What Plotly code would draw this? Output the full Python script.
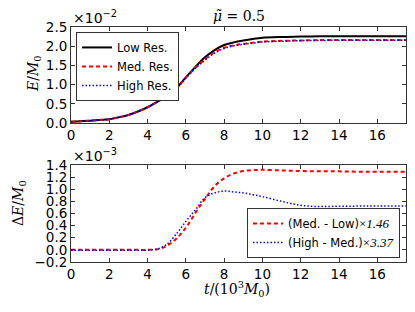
import plotly.graph_objects as go

# ---- data ----
t = [0, 0.5, 1, 1.5, 2, 2.5, 3, 3.5, 4, 4.5, 5, 5.5, 6, 6.5, 7, 7.5, 8, 8.5,
     9, 9.5, 10, 11, 12, 13, 14, 15, 16, 17.5]

# E/M0 in units of 1e-2
e_low = [0.03, 0.045, 0.06, 0.08, 0.10, 0.15, 0.21, 0.30, 0.41, 0.55, 0.70, 0.90,
         1.19, 1.46, 1.71, 1.90, 2.03, 2.10, 2.15, 2.19, 2.22, 2.24, 2.25, 2.26,
         2.26, 2.26, 2.26, 2.26]
e_med = [0.03, 0.045, 0.06, 0.08, 0.10, 0.15, 0.21, 0.30, 0.41, 0.55, 0.70, 0.90,
         1.18, 1.44, 1.66, 1.84, 1.96, 2.02, 2.06, 2.09, 2.12, 2.14, 2.15, 2.16,
         2.16, 2.16, 2.16, 2.16]
e_high = [0.03, 0.045, 0.06, 0.08, 0.10, 0.15, 0.21, 0.30, 0.41, 0.55, 0.70, 0.90,
          1.17, 1.42, 1.64, 1.82, 1.94, 2.01, 2.05, 2.08, 2.11, 2.13, 2.145, 2.15,
          2.155, 2.155, 2.155, 2.155]

# Delta E/M0 in units of 1e-3
d_med_low = [0, 0, 0, 0, 0, 0, 0, 0, 0, 0.01, 0.065, 0.185, 0.365, 0.61, 0.84,
             1.05, 1.18, 1.26, 1.30, 1.315, 1.32, 1.31, 1.30, 1.297, 1.295, 1.29,
             1.29, 1.29]
d_high_med = [-0.005, -0.005, -0.005, -0.005, -0.005, -0.005, -0.005, -0.005,
              -0.003, 0.015, 0.09, 0.26, 0.47, 0.66, 0.86, 0.94, 0.97, 0.955, 0.94,
              0.91, 0.88, 0.80, 0.735, 0.714, 0.72, 0.722, 0.725, 0.725]

x_ticks = [0, 2, 4, 6, 8, 10, 12, 14, 16]
top_ticks = [0.0, 0.5, 1.0, 1.5, 2.0, 2.5]
top_ticklabels = ["0.0", "0.5", "1.0", "1.5", "2.0", "2.5"]
bot_ticks = [-0.2, 0.0, 0.2, 0.4, 0.6, 0.8, 1.0, 1.2, 1.4]
bot_ticklabels = ["\u22120.2", "0.0", "0.2", "0.4", "0.6", "0.8", "1.0", "1.2", "1.4"]

SANS = "DejaVu Sans"
SERIF = "DejaVu Serif"
MATH = "Liberation Serif"

fig = go.Figure()
fig.add_trace(go.Scatter(x=t, y=e_low, mode="lines", name="Low Res.",
                         line=dict(color="black", width=2, shape="spline"),
                         xaxis="x", yaxis="y", legend="legend"))
fig.add_trace(go.Scatter(x=t, y=e_med, mode="lines", name="Med. Res.",
                         line=dict(color="red", width=2, dash="4px,3px", shape="spline"),
                         xaxis="x", yaxis="y", legend="legend"))
fig.add_trace(go.Scatter(x=t, y=e_high, mode="lines", name="High Res.",
                         line=dict(color="blue", width=1.5, dash="1.5px,2px", shape="spline"),
                         xaxis="x", yaxis="y", legend="legend"))

fig.add_trace(go.Scatter(x=t, y=d_med_low, mode="lines",
                         name="(Med. - Low)<span style='font-family:" + MATH + ";font-size:13px'>×<i>1.46</i></span>",
                         line=dict(color="red", width=2, dash="4px,3px", shape="spline"),
                         xaxis="x2", yaxis="y2", legend="legend2"))
fig.add_trace(go.Scatter(x=t, y=d_high_med, mode="lines",
                         name="(High - Med.)<span style='font-family:" + MATH + ";font-size:13px'>×<i>3.37</i></span>",
                         line=dict(color="blue", width=1.5, dash="1.5px,2px", shape="spline"),
                         xaxis="x2", yaxis="y2", legend="legend2"))

axis_common = dict(showline=True, linecolor="#333", linewidth=1, mirror="ticks",
                   ticks="inside", ticklen=4, tickwidth=1, tickcolor="#333",
                   showgrid=False, zeroline=False, automargin=False,
                   tickfont=dict(family=SANS, size=13.5, color="black"))

fig.update_layout(
    width=415, height=312,
    margin=dict(l=71, r=9, t=27, b=50, autoexpand=False),
    paper_bgcolor="white", plot_bgcolor="white",
    xaxis=dict(domain=[0, 1], range=[0, 17.5], tickvals=x_ticks, anchor="y", **axis_common),
    yaxis=dict(domain=[0.5915, 1.0], range=[0, 2.5], tickvals=top_ticks,
               ticktext=top_ticklabels, anchor="x", **axis_common),
    xaxis2=dict(domain=[0, 1], range=[0, 17.5], tickvals=x_ticks, anchor="y2", **axis_common),
    yaxis2=dict(domain=[0, 0.4128], range=[-0.2, 1.4], tickvals=bot_ticks,
                ticktext=bot_ticklabels, anchor="x2", **axis_common),
    legend=dict(x=0.015, y=0.979, xanchor="left", yanchor="top",
                bgcolor="white", bordercolor="#333", borderwidth=1,
                font=dict(family=SANS, size=11.5, color="black"), tracegroupgap=0),
    legend2=dict(x=0.982, y=0.017, xanchor="right", yanchor="bottom",
                 bgcolor="white", bordercolor="#333", borderwidth=1,
                 font=dict(family=SANS, size=11.5, color="black"), tracegroupgap=0),
    showlegend=True,
)

ann_font = dict(family=SANS, size=14, color="black")
fig.add_annotation(text="×10<sup>\u22122</sup>", xref="paper", yref="paper",
                   x=0, y=1.0, xanchor="left", yanchor="bottom", showarrow=False,
                   font=ann_font, yshift=-1)
fig.add_annotation(text="×10<sup>\u22123</sup>", xref="paper", yref="paper",
                   x=0, y=0.4128, xanchor="left", yanchor="bottom", showarrow=False,
                   font=ann_font, yshift=-1)
fig.add_annotation(text="<i>μ̃</i> = 0.5", xref="paper", yref="paper",
                   x=0.5, y=1.0, xanchor="center", yanchor="bottom", showarrow=False,
                   font=dict(family=SERIF, size=14, color="black"), yshift=1)
fig.add_annotation(text="<i>E</i>/<i>M</i><sub>0</sub>", xref="paper", yref="paper",
                   x=(34 - 71) / 335, y=(262 - 74) / 235, xanchor="center", yanchor="middle",
                   textangle=-90, showarrow=False,
                   font=dict(family=SERIF, size=14, color="black"))
fig.add_annotation(text="Δ<i>E</i>/<i>M</i><sub>0</sub>", xref="paper", yref="paper",
                   x=(19 - 71) / 335, y=(262 - 203) / 235, xanchor="center", yanchor="middle",
                   textangle=-90, showarrow=False,
                   font=dict(family=SERIF, size=14, color="black"))
fig.add_annotation(text="<i>t</i>/(10<sup>3</sup><i>M</i><sub>0</sub>)", xref="paper", yref="paper",
                   x=(237 - 71) / 335, y=(262 - 289) / 235, xanchor="center", yanchor="middle",
                   showarrow=False, font=dict(family=SERIF, size=14, color="black"))

fig.write_html("out.html", config={"displayModeBar": False},
               post_script="document.body.style.margin='0';document.body.style.padding='0';")
